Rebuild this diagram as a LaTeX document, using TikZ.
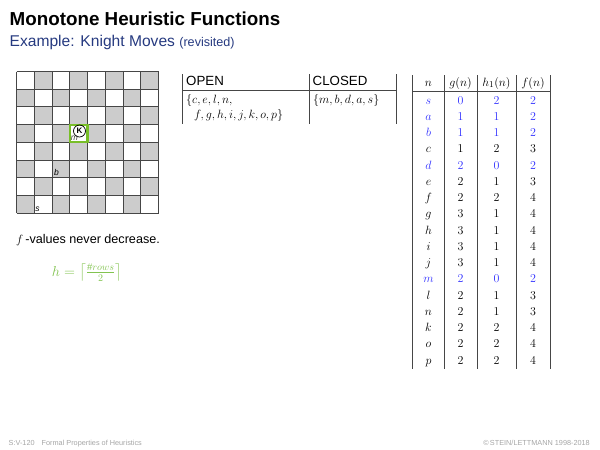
\documentclass[tikz,border=0pt]{standalone}
\usepackage{fontspec}
\setmainfont{Liberation Sans}
\usepackage{amsmath}
\definecolor{titleblue}{RGB}{38,58,128}
\definecolor{hblue}{RGB}{50,50,255}
\definecolor{kgreen}{RGB}{120,190,40}
\definecolor{hgreen}{RGB}{130,195,80}
\definecolor{cellgray}{RGB}{204,204,204}
\definecolor{linegray}{RGB}{70,70,70}
\definecolor{footgray}{RGB}{165,165,165}
\tikzset{
  lab/.style={inner sep=0pt,anchor=base},
  cell/.style={inner sep=0pt,anchor=base,font=\fontsize{12.8}{14}\selectfont},
  rule/.style={line width=0.9pt,draw=linegray},
  foot/.style={inner sep=0pt,anchor=base west,text=footgray,font=\fontsize{7.3}{8}\selectfont}
}
\begin{document}
\begin{tikzpicture}[x=1pt,y=-1pt]
\useasboundingbox (0,0) rectangle (600,450);
\node[inner sep=0pt,anchor=base west,font=\bfseries\fontsize{18.8}{20}\selectfont] (title) at (9.5,25) {Monotone Heuristic Functions};
\node[inner sep=0pt,anchor=base west,text=titleblue,font=\fontsize{15.6}{16}\selectfont] (sub) at (9.5,46) {Example: Knight Moves \fontsize{12.6}{13}\selectfont(revisited)};
% board
\foreach \r in {0,...,7}{\foreach \c in {0,...,7}{
  \pgfmathparse{int(mod(\r+\c,2))}
  \ifnum\pgfmathresult=1
    \fill[cellgray] ({16.5+17.75*\c},{71.5+17.7*\r}) rectangle ++(17.75,17.7);
  \fi
}}
\foreach \i in {0,...,8}{
  \draw[rule] ({16.5+17.75*\i},71.5) -- ({16.5+17.75*\i},213.1);
  \draw[rule] (16.5,{71.5+17.7*\i}) -- (158.5,{71.5+17.7*\i});
}
\draw[kgreen,line width=2.2pt] (69.75,124.6) rectangle (87.5,142.3);
\node[circle,draw=black,line width=0.7pt,inner sep=0.4pt,minimum size=12pt,font=\bfseries\fontsize{8}{8}\selectfont] (knight) at (79.5,131) {K};
\node[lab,font=\itshape\fontsize{8.5}{8}\selectfont,text=linegray] (m) at (74.5,140) {m};
\node[lab,font=\itshape\fontsize{8.5}{8}\selectfont] (b) at (56.5,175.5) {b};
\node[lab,font=\itshape\fontsize{8.5}{8}\selectfont] (s) at (37.5,211) {s};
% text
\node[inner sep=0pt,anchor=base west,font=\fontsize{12.6}{13}\selectfont] (fv) at (16,243.5) {$f$\,-values never decrease.};
\node[inner sep=0pt,anchor=center,text=hgreen,font=\fontsize{13.6}{14}\selectfont] (hf) at (87,272.5) {$h=\left\lceil\frac{\#rows}{2}\right\rceil$};
% open/closed
\draw[rule] (182.5,74) -- (182.5,123.5);
\draw[rule] (309,74) -- (309,123.5);
\draw[rule] (182.5,90.5) -- (396,90.5);
\draw[rule] (396,74) -- (396,123.5);
\node[inner sep=0pt,anchor=base west,font=\fontsize{13.3}{14}\selectfont] (open) at (186,85.5) {OPEN};
\node[inner sep=0pt,anchor=base west,font=\fontsize{13.3}{14}\selectfont] (closed) at (312.5,85.5) {CLOSED};
\node[inner sep=0pt,anchor=base west,font=\fontsize{13}{14}\selectfont] (o1) at (186,103.5) {$\{c,e,l,n,$};
\node[inner sep=0pt,anchor=base west,font=\fontsize{13}{14}\selectfont] (o2) at (194,118.5) {$f,g,h,i,j,k,o,p\}$};
\node[inner sep=0pt,anchor=base west,font=\fontsize{13}{14}\selectfont] (c1) at (313,103.5) {$\{m,b,d,a,s\}$};
% values table
\foreach \x in {412.5,444,477,516,550}{\draw[rule] (\x,75) -- (\x,369);}
\draw[rule] (412.5,91) -- (550,91);
\node[cell] (hn) at (428.5,86) {$n$};
\node[cell] (hg) at (460.5,86) {$g(n)$};
\node[cell] (hh) at (496.5,86) {$h_1(n)$};
\node[cell] (hfn) at (533,86) {$f(n)$};
\foreach \n/\g/\h/\f/\cn/\cv [count=\i from 0] in {
 s/0/2/2/hblue/hblue, a/1/1/2/hblue/hblue, b/1/1/2/hblue/hblue, c/1/2/3/black/black,
 d/2/0/2/hblue/hblue, e/2/1/3/black/black, f/2/2/4/black/black, g/3/1/4/black/black,
 h/3/1/4/black/black, i/3/1/4/black/black, j/3/1/4/black/black, m/2/0/2/hblue/hblue,
 l/2/1/3/black/black, n/2/1/3/black/black, k/2/2/4/black/black, o/2/2/4/black/black,
 p/2/2/4/black/black}{
  \node[cell,text=\cn] (n\i) at (428.5,{104+16.25*\i}) {$\n$};
  \node[cell,text=\cv] (g\i) at (460.5,{104+16.25*\i}) {$\g$};
  \node[cell,text=\cv] (h\i) at (496.5,{104+16.25*\i}) {$\h$};
  \node[cell,text=\cv] (f\i) at (533,{104+16.25*\i}) {$\f$};
}
% footer
\node[foot] (f1) at (8.5,445) {S:V-120\hspace{7pt}Formal Properties of Heuristics};
\node[foot,anchor=base east] (f2) at (590,445) {©\,STEIN/LETTMANN 1998-2018};
\end{tikzpicture}
\end{document}
